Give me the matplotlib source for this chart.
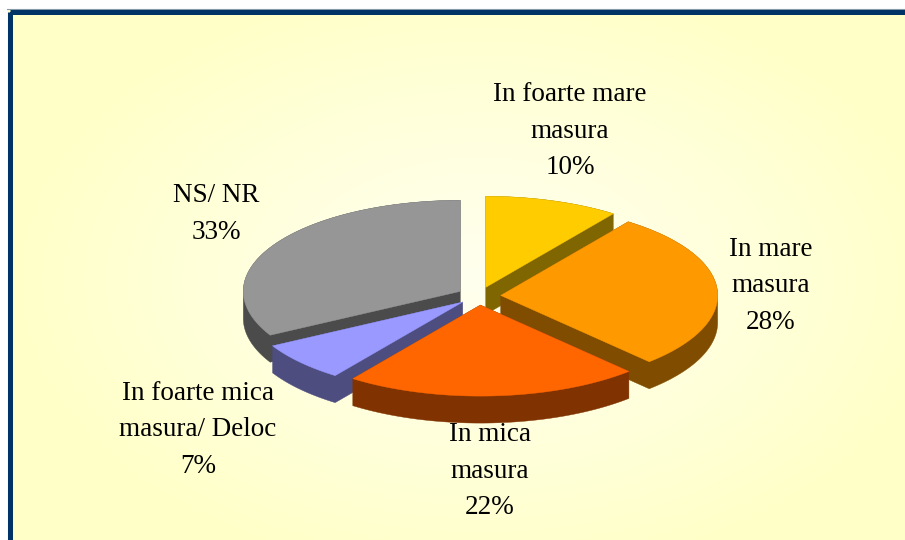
import numpy as np
import matplotlib
matplotlib.use("Agg")
import matplotlib.pyplot as plt
from matplotlib.patches import Polygon, Rectangle

# ---- data ----
categories = ["In foarte mare\nmasura", "In mare\nmasura", "In mica\nmasura",
              "In foarte mica\nmasura/ Deloc", "NS/ NR"]
values = [10, 28, 22, 7, 33]
top_colors = ["#FFCC00", "#FF9900", "#FF6600", "#9999FF", "#969696"]
side_colors = ["#806600", "#804C00", "#803300", "#4D4D80", "#4B4B4B"]

# ---- layout (pixel space) ----
label_xy = [(570, 131), (771, 286), (490, 471), (198, 430), (216, 214)]
W, H = 905, 540
cx, cy = 479, 296
ra, rb = 217, 91
depth = 27
explode = 0.1


def convex_hull(pts):
    pts = sorted(set(map(tuple, np.round(pts, 4))))
    if len(pts) <= 2:
        return np.array(pts)

    def cross(o, a, b):
        return (a[0] - o[0]) * (b[1] - o[1]) - (a[1] - o[1]) * (b[0] - o[0])
    lower, upper = [], []
    for p in pts:
        while len(lower) >= 2 and cross(lower[-2], lower[-1], p) <= 0:
            lower.pop()
        lower.append(p)
    for p in reversed(pts):
        while len(upper) >= 2 and cross(upper[-2], upper[-1], p) <= 0:
            upper.pop()
        upper.append(p)
    return np.array(lower[:-1] + upper[:-1])


fig = plt.figure(figsize=(W / 100, H / 100), dpi=100, facecolor="white")
ax = fig.add_axes([0, 0, 1, 1])
ax.set_xlim(0, W)
ax.set_ylim(H, 0)
ax.axis("off")

# background gradient inside frame
fx0, fy0 = 7, 9
gx = np.linspace(fx0, W, 400)
gy = np.linspace(fy0, H, 240)
GX, GY = np.meshgrid(gx, gy)
t = np.sqrt(((GX - 480) / 470) ** 2 + ((GY - 280) / 300) ** 2)
t = np.clip(t, 0, 1) ** 1.2
c_center = np.array([255, 255, 238]) / 255
c_edge = np.array([255, 255, 200]) / 255
img = c_center[None, None, :] * (1 - t[..., None]) + c_edge[None, None, :] * t[..., None]
ax.imshow(img, extent=(fx0, W, H, fy0), aspect="auto", zorder=0, interpolation="bilinear")

# frame border
ax.plot([fx0, W], [fy0 - 0.5, fy0 - 0.5], color="#8899AA", lw=0.8, zorder=5)
ax.add_patch(Rectangle((fx0 + 2.5, fy0 + 2.5), W, H, fill=False,
                       edgecolor="#003366", lw=5 * 0.72, zorder=5))

# 3D exploded pie
total = float(sum(values))
start = 90.0
slices = []
for i, v in enumerate(values):
    sweep = 360.0 * v / total
    t1, t2 = start, start - sweep
    mid = np.radians((t1 + t2) / 2)
    ts = np.radians(np.linspace(t1, t2, 150))
    ox = explode * ra * np.cos(mid)
    oy = explode * rb * np.sin(mid)
    px = cx + ox + ra * np.cos(ts)
    py = cy - oy - rb * np.sin(ts)
    top = np.vstack([[cx + ox, cy - oy], np.column_stack([px, py])])
    slices.append((np.sin(mid), i, top))
    start = t2

for _, i, top in sorted(slices, key=lambda s: -s[0]):
    bottom = top + np.array([0, depth])
    hull = convex_hull(np.vstack([top, bottom]))
    ax.add_patch(Polygon(hull, closed=True, facecolor=side_colors[i],
                         edgecolor=side_colors[i], lw=0.3, zorder=2))
    ax.add_patch(Polygon(top, closed=True, facecolor=top_colors[i],
                         edgecolor=top_colors[i], lw=0.3, zorder=2))

# labels
for i, (cat, v) in enumerate(zip(categories, values)):
    x, y = label_xy[i]
    ax.text(x, y, f"{cat}\n{v}%", ha="center", va="center", multialignment="center",
            fontsize=19.5, family="Liberation Serif", linespacing=1.6, color="black", zorder=6)

fig.savefig("out.png", dpi=100, facecolor="white")
